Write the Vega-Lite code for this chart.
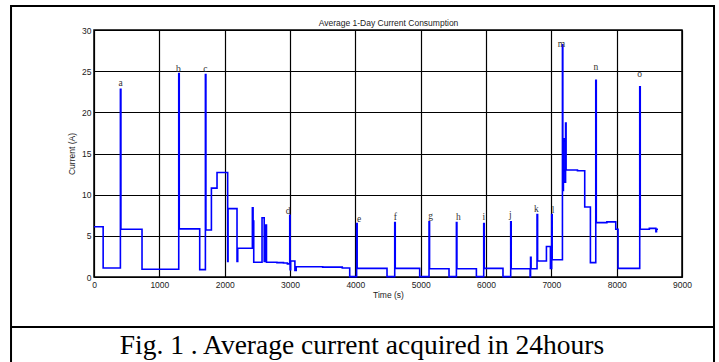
{
  "$schema": "https://vega.github.io/schema/vega-lite/v6.json",
  "width": 588,
  "height": 247,
  "autosize": {"type": "none"},
  "padding": {"left": 94, "top": 30, "right": 37, "bottom": 85},
  "background": "white",
  "title": {
    "text": "Fig. 1 . Average current acquired in 24hours",
    "orient": "bottom",
    "anchor": "middle",
    "font": "Liberation Serif",
    "fontSize": 27.5,
    "fontWeight": "normal",
    "color": "black",
    "baseline": "alphabetic",
    "offset": -14,
    "dx": -26
  },
  "config": {"view": {"stroke": "black", "strokeWidth": 1.5}},
  "resolve": {"axis": {"x": "independent", "y": "independent"}},
  "layer": [
    {
      "data": {"values": [
        {"t": 0, "v": 6.1}, {"t": 140, "v": 1.1}, {"t": 404, "v": 22.8}, {"t": 412, "v": 5.8},
        {"t": 735, "v": 0.95}, {"t": 1297, "v": 24.7}, {"t": 1305, "v": 5.85}, {"t": 1618, "v": 0.9},
        {"t": 1705, "v": 24.6}, {"t": 1713, "v": 5.7}, {"t": 1797, "v": 10.8}, {"t": 1883, "v": 12.7},
        {"t": 2046, "v": 1.9}, {"t": 2052, "v": 8.3}, {"t": 2189, "v": 1.9}, {"t": 2200, "v": 3.5},
        {"t": 2424, "v": 8.4}, {"t": 2435, "v": 6.8}, {"t": 2445, "v": 1.8}, {"t": 2572, "v": 7.2},
        {"t": 2605, "v": 1.9}, {"t": 2625, "v": 6.3}, {"t": 2640, "v": 1.8}, {"t": 2800, "v": 1.75},
        {"t": 2900, "v": 1.7}, {"t": 2960, "v": 1.6}, {"t": 2996, "v": 7.5}, {"t": 3002, "v": 0.9},
        {"t": 3010, "v": 1.95}, {"t": 3075, "v": 0.8}, {"t": 3095, "v": 1.25}, {"t": 3500, "v": 1.2},
        {"t": 3800, "v": 1.1}, {"t": 3914, "v": 0.05}, {"t": 4020, "v": 6.5}, {"t": 4028, "v": 1.05},
        {"t": 4485, "v": 0.05}, {"t": 4603, "v": 6.6}, {"t": 4611, "v": 1.05}, {"t": 4985, "v": 0.05},
        {"t": 5128, "v": 6.7}, {"t": 5136, "v": 1.0}, {"t": 5434, "v": 0.05}, {"t": 5547, "v": 6.6},
        {"t": 5555, "v": 1.0}, {"t": 5853, "v": 0.05}, {"t": 5965, "v": 6.5}, {"t": 5973, "v": 1.05},
        {"t": 6260, "v": 0.05}, {"t": 6378, "v": 6.7}, {"t": 6386, "v": 1.0}, {"t": 6675, "v": 0.05},
        {"t": 6682, "v": 2.4}, {"t": 6690, "v": 1.0}, {"t": 6781, "v": 7.6}, {"t": 6790, "v": 1.95},
        {"t": 6925, "v": 3.7}, {"t": 6986, "v": 1.05}, {"t": 7005, "v": 7.6}, {"t": 7013, "v": 2.1},
        {"t": 7170, "v": 28.2}, {"t": 7176, "v": 10.5}, {"t": 7185, "v": 16.5}, {"t": 7200, "v": 16.8},
        {"t": 7210, "v": 11.5}, {"t": 7218, "v": 18.7}, {"t": 7226, "v": 13.0}, {"t": 7400, "v": 12.9},
        {"t": 7511, "v": 8.5}, {"t": 7598, "v": 1.75}, {"t": 7680, "v": 23.9}, {"t": 7688, "v": 6.6},
        {"t": 7850, "v": 6.7}, {"t": 7986, "v": 5.8}, {"t": 8021, "v": 1.05}, {"t": 8353, "v": 23.1},
        {"t": 8361, "v": 5.8}, {"t": 8500, "v": 5.9}, {"t": 8600, "v": 5.5}, {"t": 8610, "v": 5.8},
        {"t": 8633, "v": 5.8}
      ]},
      "mark": {"type": "line", "interpolate": "step-after", "color": "#0000ff", "strokeWidth": 1.6},
      "encoding": {
        "x": {
          "field": "t", "type": "quantitative",
          "scale": {"domain": [0, 9000], "nice": false, "zero": false},
          "axis": {
            "values": [0, 1000, 2000, 3000, 4000, 5000, 6000, 7000, 8000, 9000], "format": "d",
            "grid": true, "gridColor": "black", "gridWidth": 1.2, "gridOpacity": 1,
            "ticks": false, "domain": false, "labelFlush": false,
            "labelFont": "Liberation Sans", "labelFontSize": 8.5, "labelColor": "#222", "labelPadding": 3,
            "title": "Time (s)", "titleFont": "Liberation Sans", "titleFontSize": 8.5,
            "titleFontWeight": "normal", "titleColor": "#222", "titlePadding": 2
          }
        },
        "y": {
          "field": "v", "type": "quantitative",
          "scale": {"domain": [0, 30], "nice": false},
          "axis": {
            "values": [0, 5, 10, 15, 20, 25, 30], "format": "d",
            "grid": true, "gridColor": "black", "gridWidth": 1.2, "gridOpacity": 1,
            "ticks": false, "domain": false, "labelFlush": false,
            "labelFont": "Liberation Sans", "labelFontSize": 8.5, "labelColor": "#222", "labelPadding": 3,
            "title": "Current (A)", "titleFont": "Liberation Sans", "titleFontSize": 8.5,
            "titleFontWeight": "normal", "titleColor": "#222", "titlePadding": 5
          }
        }
      }
    },
    {
      "data": {"values": [
        {"label": "a", "t": 409, "v": 23.6}, {"label": "b", "t": 1292, "v": 25.3},
        {"label": "c", "t": 1705, "v": 25.3}, {"label": "d", "t": 2970, "v": 8.05},
        {"label": "e", "t": 4056, "v": 7.1}, {"label": "f", "t": 4613, "v": 7.3},
        {"label": "g", "t": 5154, "v": 7.4}, {"label": "h", "t": 5578, "v": 7.3},
        {"label": "i", "t": 5965, "v": 7.3}, {"label": "j", "t": 6374, "v": 7.5},
        {"label": "k", "t": 6771, "v": 8.3}, {"label": "l", "t": 7026, "v": 8.1},
        {"label": "m", "t": 7154, "v": 28.3}, {"label": "n", "t": 7680, "v": 25.5},
        {"label": "o", "t": 8353, "v": 24.7}
      ]},
      "mark": {"type": "text", "font": "Liberation Serif", "fontSize": 9.5, "color": "#333", "baseline": "middle"},
      "encoding": {
        "x": {
          "field": "t", "type": "quantitative",
          "axis": {
            "orient": "top", "labels": false, "ticks": false, "domain": false, "grid": false,
            "title": "Average 1-Day Current Consumption", "titleFont": "Liberation Sans",
            "titleFontSize": 8.5, "titleFontWeight": "normal", "titleColor": "#222", "titlePadding": 3
          }
        },
        "y": {"field": "v", "type": "quantitative", "axis": null},
        "text": {"field": "label"}
      }
    },
    {
      "data": {"values": [{}]},
      "mark": {"type": "rect", "fill": null, "stroke": "black", "strokeWidth": 2},
      "encoding": {
        "x": {"datum": -1270, "type": "quantitative", "axis": null},
        "x2": {"datum": 9490},
        "y": {"datum": 32.9, "type": "quantitative", "axis": null},
        "y2": {"datum": -10.9}
      }
    },
    {
      "data": {"values": [{}]},
      "mark": {"type": "rule", "stroke": "black", "strokeWidth": 2},
      "encoding": {
        "x": {"datum": -1270, "type": "quantitative", "axis": null},
        "x2": {"datum": 9490},
        "y": {"datum": -6.07, "type": "quantitative", "axis": null}
      }
    }
  ]
}
